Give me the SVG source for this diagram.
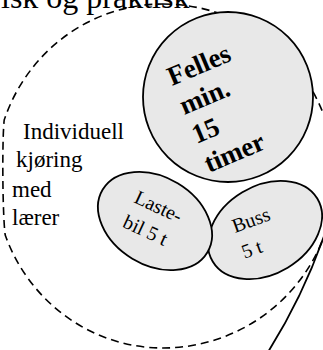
<svg xmlns="http://www.w3.org/2000/svg" width="323" height="350" viewBox="0 0 323 350">
<style>
.bubble{fill:#e8e8e8;stroke:#000;stroke-width:1.8}
.dash{fill:none;stroke:#000;stroke-width:1.6;stroke-dasharray:8 5}
.line{fill:none;stroke:#000;stroke-width:1.8}
text{font-family:"Liberation Serif","Times New Roman",serif;fill:#000}
.lbl{font-size:23px}
.big{font-size:27px;font-weight:bold}
.sm{font-size:20px}
</style>
<rect width="323" height="350" fill="#fff"/>
<g id="title"><text x="1" y="8" font-size="32">isk og praktisk</text></g>
<g id="connectors">
<path class="dash" d="M 163 4 A 172 172 0 0 1 163 348 A 168 172 0 0 1 5.2 235 C 2.5 215 2 140 4.2 120 A 168 172 0 0 1 163 4 Z"/>
<path class="line" d="M 324 236 Q 303 296 268 352"/>
</g>
<g id="individuell">
<text class="lbl" x="23" y="139">Individuell</text>
<text class="lbl" x="16" y="167">kjøring</text>
<text class="lbl" x="12" y="197">med</text>
<text class="lbl" x="12" y="225">lærer</text>
</g>
<g id="felles">
<circle class="bubble" cx="228" cy="97" r="85"/>
<g transform="translate(172 86) rotate(-23)">
<text class="big" x="0" y="0">Felles</text>
<text class="big" x="0" y="31.5">min.</text>
<text class="big" x="0" y="63">15</text>
<text class="big" x="0" y="94.5">timer</text>
</g>
</g>
<g id="buss">
<ellipse class="bubble" cx="265" cy="230" rx="61" ry="44" transform="rotate(-31 265 230)"/>
<g transform="translate(235 233) rotate(-20)">
<text class="sm" x="0" y="0">Buss</text>
<text class="sm" x="0" y="27.5">5 t</text>
</g>
</g>
<g id="lastebil">
<ellipse class="bubble" cx="155" cy="221" rx="61" ry="44" transform="rotate(31 155 221)"/>
<g transform="translate(133 202) rotate(25)">
<text class="sm" x="0" y="0">Laste-</text>
<text class="sm" x="0" y="27">bil 5 t</text>
</g>
</g>
</svg>
